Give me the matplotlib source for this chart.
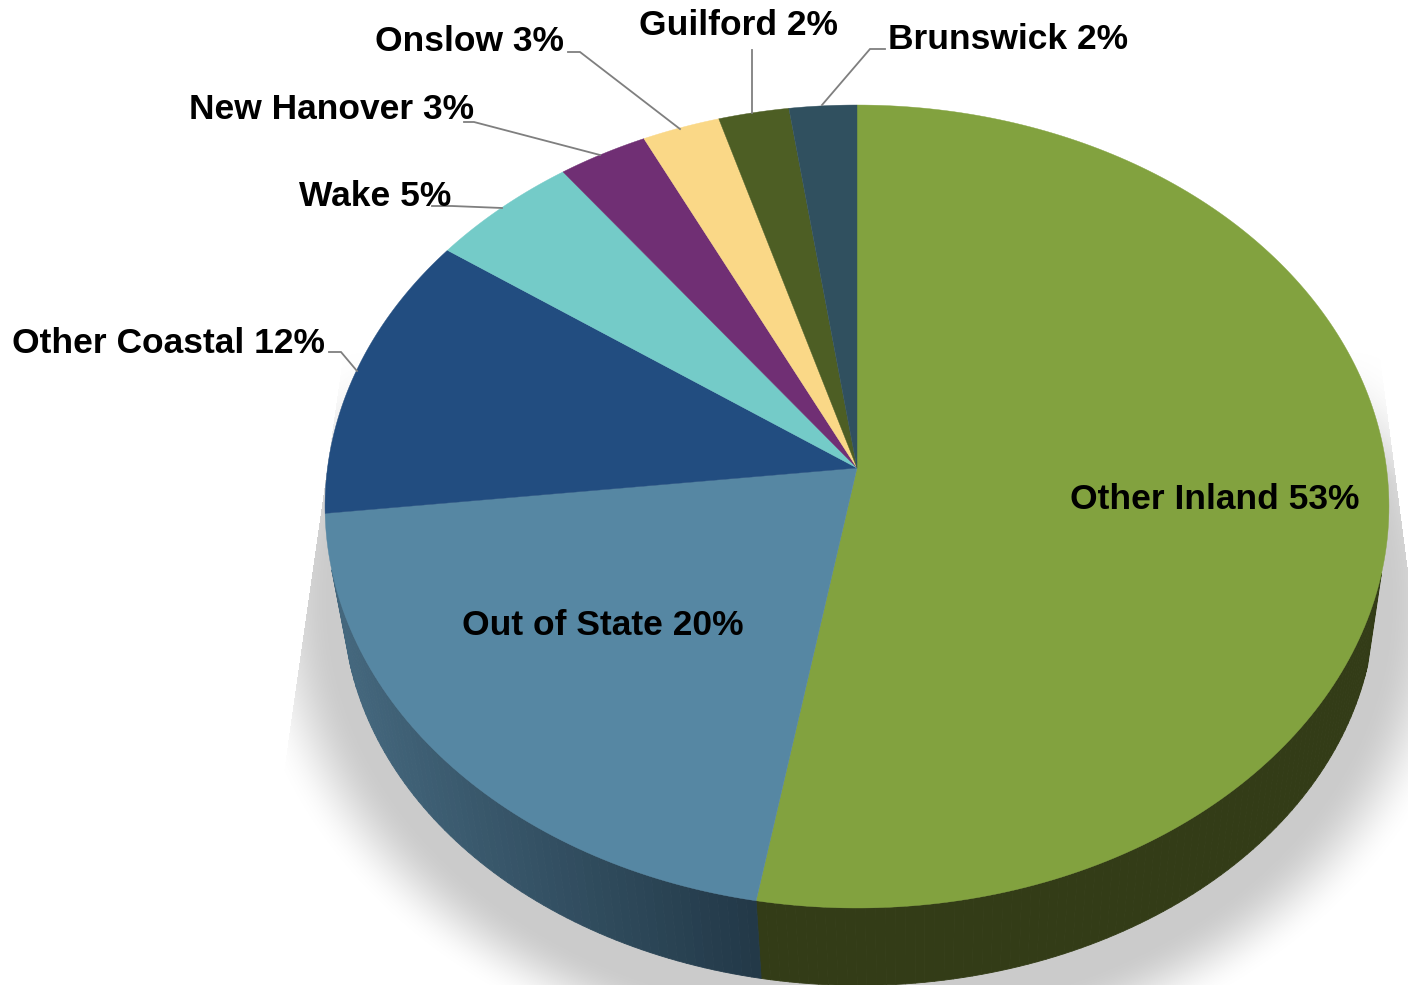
import numpy as np
import matplotlib
matplotlib.use("Agg")
import matplotlib.pyplot as plt
from matplotlib.collections import PolyCollection

# ---- data ----
categories = ["Other Inland", "Out of State", "Other Coastal", "Wake",
              "New Hanover", "Onslow", "Guilford", "Brunswick"]
shares = [52.76, 20.44, 11.6, 5.0, 3.0, 2.6, 2.35, 2.25]
top_colors = ["#82a23f", "#5687a3", "#224d80", "#74cbc8",
              "#702f74", "#fad887", "#4d5e24", "#30505f"]

# ---- layout ----
W, H = 1408, 985
label_anchor = [(1070, 509), (462, 635), (12, 353), (299, 206),
                (189, 119), (375, 51), (639, 35), (888, 49)]
leaders = [None, None,
           [(329, 352), (341, 352), (357, 371)],
           [(432, 206), (452, 206), (502, 208)],
           [(464, 122), (474, 122), (600, 155)],
           [(568, 52), (580, 52), (680, 129)],
           [(752, 50), (752, 113)],
           [(885, 49), (870, 49), (822, 105)]]

K = 0.0959
TOP = dict(cx=857.0, cy=468.0, a=529.5, b=397.8)
BOT = dict(cx=859.0, cy=564.0, a=513.6, b=381.0)
SIDE_FROM, SIDE_TO = np.radians(105), np.radians(255.5)


def project(theta, g):
    """Clockwise-from-top angle on the disc -> perspective-projected pixel."""
    u, v = np.sin(theta), np.cos(theta)
    w = 1 + K * v
    return g["cx"] + g["a"] * u / w, g["cy"] - g["b"] * v / w


def side_color(i, x):
    if i == 0:
        return (0x33 / 255, 0x3c / 255, 0x17 / 255)
    t = np.clip((760 - x) / 420, 0, 1)
    c0 = np.array([0x22, 0x38, 0x47])
    c1 = np.array([0x44, 0x67, 0x7d])
    return tuple((c0 + (c1 - c0) * t) / 255)


fig = plt.figure(figsize=(W / 100, H / 100), dpi=100, facecolor="white")
ax = fig.add_axes([0, 0, 1, 1])
ax.set_xlim(0, W)
ax.set_ylim(H, 0)
ax.axis("off")

# soft shadow
yy, xx = np.mgrid[0:H, 0:W]
rho = np.sqrt(((xx - 859) / 600) ** 2 + ((yy - 600) / 470) ** 2)
t = np.clip((1.03 - rho) / 0.15, 0, 1)
alpha = t * t * (3 - 2 * t)
ty = np.clip((yy - 350) / 130, 0, 1)
alpha *= ty
left_x = 325 + (yy - 480) * (288 - 325) / 260
right_x = 1383 + (yy - 383) * (1407 - 1383) / 184
alpha[(xx < left_x) | (xx > right_x)] = 0
rgba = np.zeros((H, W, 4))
rgba[..., :3] = 0xcb / 255
rgba[..., 3] = alpha
ax.imshow(rgba, extent=(0, W, H, 0), aspect="auto", zorder=0, interpolation="bilinear")

edges = 2 * np.pi * np.concatenate([[0], np.cumsum(shares)]) / sum(shares)

# side wall (only the part below the visible rim)
polys, cols = [], []
for i in range(len(shares)):
    lo, hi = max(edges[i], SIDE_FROM), min(edges[i + 1], SIDE_TO)
    if hi <= lo:
        continue
    th = np.linspace(lo, hi, max(4, int((hi - lo) * 60)))
    for a, b in zip(th[:-1], th[1:]):
        xa, ya = project(a, TOP)
        xb, yb = project(b, TOP)
        xc, yc = project(b, BOT)
        xd, yd = project(a, BOT)
        polys.append([(xa, ya), (xb, yb), (xc, yc), (xd, yd)])
        cols.append(side_color(i, (xa + xb) / 2))
ax.add_collection(PolyCollection(polys, facecolors=cols, edgecolors=cols,
                                 linewidths=0.6, zorder=1))

# top face
for i in range(len(shares)):
    th = np.linspace(edges[i], edges[i + 1], 200)
    x, y = project(th, TOP)
    ax.fill(np.r_[TOP["cx"], x], np.r_[TOP["cy"], y], color=top_colors[i],
            lw=0.3, zorder=2)

# leaders and labels
for seg in leaders:
    if seg:
        ax.plot(*zip(*seg), color="#7f7f7f", lw=1.3, zorder=3, solid_joinstyle="miter")
for name, v, (x, y) in zip(categories, shares, label_anchor):
    ax.text(x, y, f"{name} {v:.0f}%", family="Liberation Sans", weight="bold",
            fontsize=25.5, color="black", ha="left", va="baseline", zorder=4)

fig.savefig("out.png", dpi=100)
